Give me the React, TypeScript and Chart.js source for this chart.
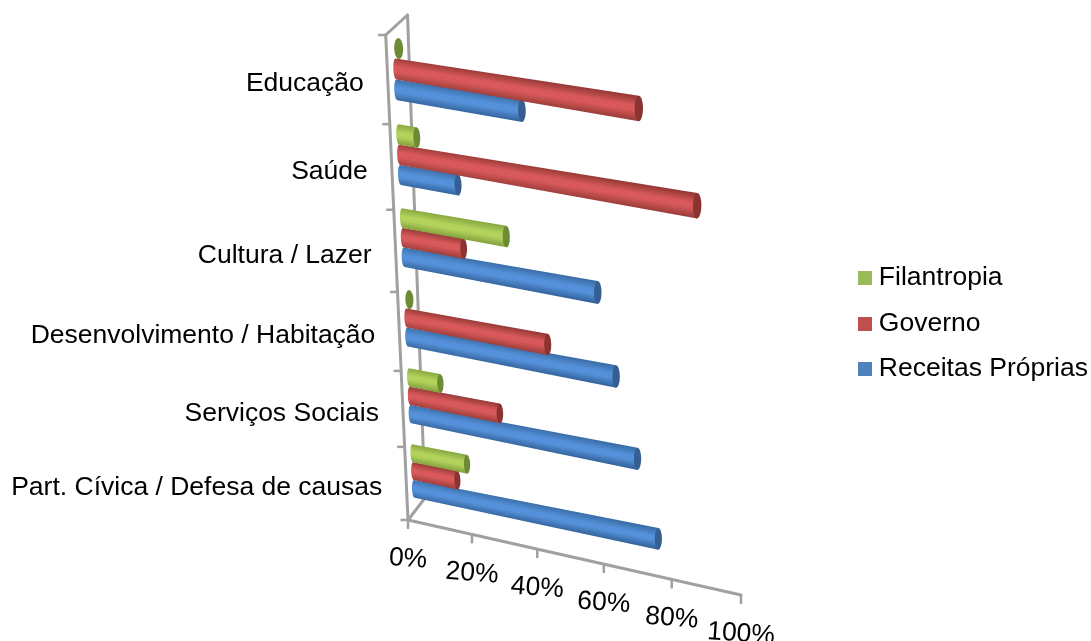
import React, { useEffect, useRef } from "react";
import { Chart, registerables } from "chart.js";

Chart.register(...registerables);

const categories = ["Educação", "Saúde", "Cultura / Lazer", "Desenvolvimento / Habitação", "Serviços Sociais", "Part. Cívica / Defesa de causas"];
const filantropia = [1, 5, 29, 1, 9, 16];
const governo = [65, 80.5, 17, 40, 26, 13];
const receitas = [34, 16, 54, 59, 65, 71];

type Pt = [number, number];
const FONT = '"Liberation Sans", Arial, sans-serif';
const FONT_SIZE = 26.5;
const GREY = "#a0a0a0";

// corners of the projected planes: [value 0 top, value 100 top, value 100 bottom, value 0 bottom]
const BAR_PLANE: Pt[] = [[394, 25], [776, 85.5], [761, 579.5], [415, 508]];
const AXIS_PLANE: Pt[] = [[385.7, 35], [762, 92], [741, 595], [408, 520]];
const BACK_TOP: Pt = [407.5, 15];
const BACK_BOTTOM: Pt = [425, 498];

function homography(q: Pt[]) {
  const [[x0, y0], [x1, y1], [x2, y2], [x3, y3]] = q;
  const dx1 = x1 - x2, dx2 = x3 - x2, sx = x0 - x1 + x2 - x3;
  const dy1 = y1 - y2, dy2 = y3 - y2, sy = y0 - y1 + y2 - y3;
  const den = dx1 * dy2 - dx2 * dy1;
  const g = (sx * dy2 - dx2 * sy) / den;
  const h = (dx1 * sy - sx * dy1) / den;
  const a = x1 - x0 + g * x1, b = x3 - x0 + h * x3;
  const d = y1 - y0 + g * y1, e = y3 - y0 + h * y3;
  return (u: number, v: number): Pt => {
    const w = g * u + h * v + 1;
    return [(a * u + b * v + x0) / w, (d * u + e * v + y0) / w];
  };
}
const barH = homography(BAR_PLANE);
const axisH = homography(AXIS_PLANE);

const shades: Record<string, { edgeTop: string; mid: string; edgeBottom: string; cap: string }> = {
  Filantropia: { edgeTop: "#86a83f", mid: "#b2d25c", edgeBottom: "#83a23e", cap: "#6d8a35" },
  Governo: { edgeTop: "#973a37", mid: "#d9595a", edgeBottom: "#9f3f3c", cap: "#8a3331" },
  "Receitas Próprias": { edgeTop: "#3a6ea8", mid: "#5591da", edgeBottom: "#35669f", cap: "#365f91" },
};
const legendColors: Record<string, string> = { Filantropia: "#9bbb59", Governo: "#c0504d", "Receitas Próprias": "#4f81bd" };

function swatch(color: string) {
  const c = document.createElement("canvas");
  c.width = 14;
  c.height = 14;
  const x = c.getContext("2d")!;
  x.fillStyle = color;
  x.fillRect(0, 0, 14, 14);
  return c;
}

function drawLine(ctx: CanvasRenderingContext2D, a: Pt, b: Pt) {
  ctx.beginPath();
  ctx.moveTo(a[0], a[1]);
  ctx.lineTo(b[0], b[1]);
  ctx.stroke();
}

function drawCylinder(ctx: CanvasRenderingContext2D, A: Pt, B0: Pt, C0: Pt, D: Pt, s: (typeof shades)[string], u1: number) {
  // the cylinder grows slightly towards the viewer at its far end
  const grow = 1 + 0.3 * u1;
  const endC: Pt = [(B0[0] + C0[0]) / 2, (B0[1] + C0[1]) / 2];
  const B: Pt = [endC[0] + (B0[0] - endC[0]) * grow, endC[1] + (B0[1] - endC[1]) * grow];
  const C: Pt = [endC[0] + (C0[0] - endC[0]) * grow, endC[1] + (C0[1] - endC[1]) * grow];
  const m1: Pt = [(A[0] + B[0]) / 2, (A[1] + B[1]) / 2];
  const m2: Pt = [(C[0] + D[0]) / 2, (C[1] + D[1]) / 2];
  const startC: Pt = [(A[0] + D[0]) / 2, (A[1] + D[1]) / 2];
  const ryEnd = Math.hypot(C[0] - B[0], C[1] - B[1]) / 2;
  const ryStart = Math.hypot(D[0] - A[0], D[1] - A[1]) / 2;
  const rotEnd = Math.atan2(C[1] - B[1], C[0] - B[0]) - Math.PI / 2;
  const rotStart = Math.atan2(D[1] - A[1], D[0] - A[0]) - Math.PI / 2;
  const flat = 0.25;
  const len = Math.hypot(endC[0] - startC[0], endC[1] - startC[1]);
  if (len > 6) {
    const dirX = (endC[0] - startC[0]) / len, dirY = (endC[1] - startC[1]) / len;
    const nx = -dirY, ny = dirX;
    const t = (m2[0] - m1[0]) * nx + (m2[1] - m1[1]) * ny;
    const g = ctx.createLinearGradient(m1[0], m1[1], m1[0] + nx * t, m1[1] + ny * t);
    g.addColorStop(0, s.edgeTop);
    g.addColorStop(0.4, s.mid);
    g.addColorStop(0.6, s.mid);
    g.addColorStop(1, s.edgeBottom);
    ctx.fillStyle = g;
    ctx.beginPath();
    ctx.moveTo(A[0], A[1]);
    ctx.lineTo(B[0], B[1]);
    ctx.lineTo(C[0], C[1]);
    ctx.lineTo(D[0], D[1]);
    ctx.ellipse(startC[0], startC[1], ryStart * flat, ryStart, rotStart, Math.PI / 2, (3 * Math.PI) / 2);
    ctx.closePath();
    ctx.fill();
  }
  ctx.fillStyle = s.cap;
  ctx.beginPath();
  ctx.ellipse(endC[0], endC[1], ryEnd * (len > 6 ? 0.33 : 0.42), ryEnd, rotEnd, 0, Math.PI * 2);
  ctx.fill();
}

const projected3D = {
  id: "projected3D",
  beforeDatasetsDraw(chart: any) {
    const { ctx, chartArea: ca, scales } = chart;
    const xs = scales.x, ys = scales.y;
    const v = (py: number) => (py - ca.top) / (ca.bottom - ca.top);
    const u = (px: number) => (px - ca.left) / (ca.right - ca.left);
    ctx.save();
    ctx.strokeStyle = GREY;
    ctx.lineWidth = 3;
    ctx.lineCap = "round";
    drawLine(ctx, axisH(0, 0), axisH(0, 1));
    drawLine(ctx, axisH(0, 1), axisH(1, 1));
    drawLine(ctx, axisH(0, 0), BACK_TOP);
    drawLine(ctx, BACK_TOP, BACK_BOTTOM);
    drawLine(ctx, axisH(0, 1), BACK_BOTTOM);
    ctx.lineCap = "butt";
    ctx.lineWidth = 2.5;
    const n = ys.ticks.length;
    for (let i = 0; i <= n; i++) {
      const p = axisH(0, i / n);
      drawLine(ctx, [p[0] - 7.5, p[1]], p);
    }
    xs.ticks.forEach((t: any) => {
      const p = axisH(u(xs.getPixelForValue(t.value)), 1);
      drawLine(ctx, p, [p[0], p[1] + 9]);
    });
    ctx.fillStyle = "#000";
    ctx.font = `${FONT_SIZE}px ${FONT}`;
    ctx.textAlign = "right";
    ctx.textBaseline = "middle";
    ys.ticks.forEach((t: any, i: number) => {
      const p = axisH(0, v(ys.getPixelForTick(i)));
      ctx.fillText(t.label, p[0] - 24, p[1] + 4);
    });
    ctx.textAlign = "center";
    xs.ticks.forEach((t: any) => {
      const p = axisH(u(xs.getPixelForValue(t.value)), 1);
      ctx.save();
      ctx.translate(p[0], p[1] + 39);
      ctx.rotate((4 * Math.PI) / 180);
      ctx.fillText(t.label, 0, 0);
      ctx.restore();
    });
    ctx.restore();
  },
  beforeDatasetDraw(chart: any, args: any) {
    const { ctx, chartArea: ca } = chart;
    const meta = args.meta;
    const s = shades[meta.label ?? chart.data.datasets[args.index].label];
    const v = (py: number) => (py - ca.top) / (ca.bottom - ca.top);
    const u = (px: number) => (px - ca.left) / (ca.right - ca.left);
    ctx.save();
    meta.data.forEach((el: any) => {
      const t0 = v(el.y - el.height / 2), t1 = v(el.y + el.height / 2);
      const u0 = u(el.base), u1 = u(el.x);
      drawCylinder(ctx, barH(u0, t0), barH(u1, t0), barH(u1, t1), barH(u0, t1), s, u1);
    });
    ctx.restore();
    return false;
  },
};

export default function App() {
  const ref = useRef<HTMLCanvasElement>(null);
  useEffect(() => {
    const chart = new Chart(ref.current!, {
      type: "bar",
      data: {
        labels: categories,
        datasets: [
          { label: "Filantropia", data: filantropia, backgroundColor: legendColors.Filantropia },
          { label: "Governo", data: governo, backgroundColor: legendColors.Governo },
          { label: "Receitas Próprias", data: receitas, backgroundColor: legendColors["Receitas Próprias"] },
        ],
      },
      options: {
        indexAxis: "y",
        responsive: false,
        animation: false,
        layout: { padding: { right: -7, top: 6 } },
        categoryPercentage: 0.72,
        barPercentage: 1,
        scales: {
          x: { display: false, min: 0, max: 100, ticks: { stepSize: 20, callback: (val: any) => `${val}%` } },
          y: { display: false },
        },
        plugins: {
          tooltip: { enabled: false },
          legend: {
            position: "right",
            labels: {
              usePointStyle: true,
              pointStyleWidth: 0.5,
              boxHeight: 14,
              color: "#000",
              font: { family: FONT, size: FONT_SIZE },
              padding: 19,
              generateLabels: (c: any) =>
                c.data.datasets.map((d: any, i: number) => ({
                  text: d.label,
                  fontColor: "#000",
                  fillStyle: d.backgroundColor,
                  strokeStyle: d.backgroundColor,
                  lineWidth: 0,
                  hidden: false,
                  datasetIndex: i,
                  pointStyle: swatch(d.backgroundColor),
                })),
            },
          },
        },
      } as any,
      plugins: [projected3D as any],
    } as any);
    return () => chart.destroy();
  }, []);
  return (
    <div style={{ position: "absolute", left: 0, top: 0, width: 1091, height: 641, overflow: "hidden", background: "#fff" }}>
      <canvas ref={ref} width={1091} height={641} style={{ display: "block" }} />
    </div>
  );
}
